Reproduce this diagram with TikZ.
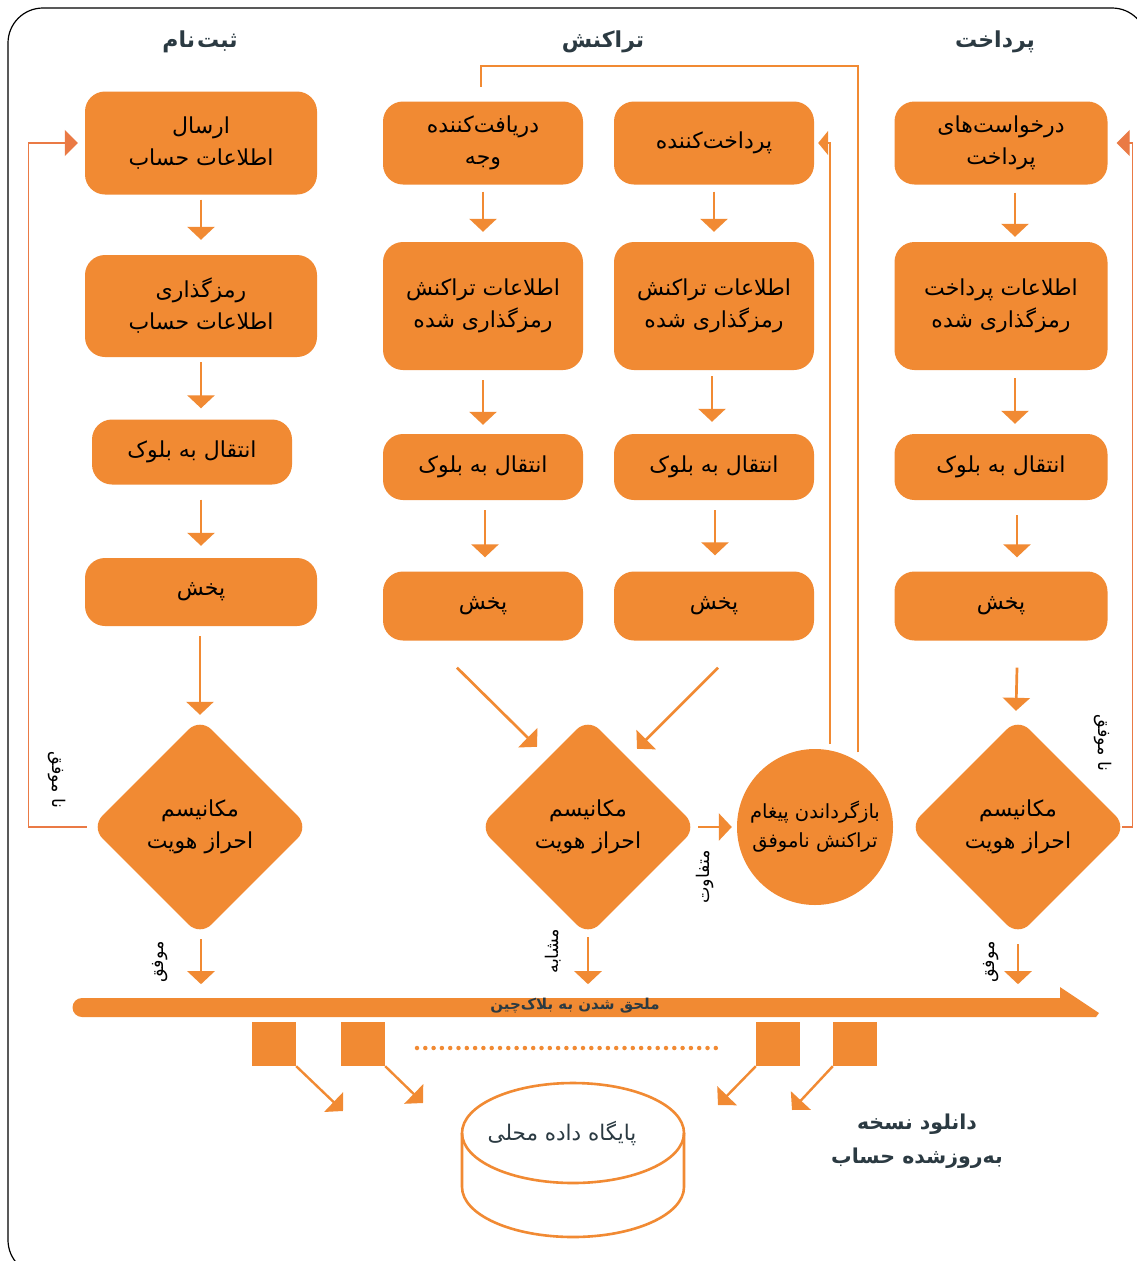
\documentclass[tikz,border=0pt]{standalone}
\usepackage{fontspec}
\usetikzlibrary{shapes.geometric,arrows.meta}
\TeXXeTstate=1
\newfontfamily\arabicfont[Script=Arabic]{DejaVu Sans}
\newcommand\fa[1]{\beginR #1\endR}
\definecolor{orng}{HTML}{F18A33}
\definecolor{ink}{HTML}{2B3A42}
\definecolor{fbline}{HTML}{EA7A45}
\begin{document}
\begin{tikzpicture}[x=1pt,y=-1pt,
  box/.style={rectangle, rounded corners=20pt, fill=orng, inner sep=0pt, align=center,
    font=\arabicfont\fontsize{22}{32}\selectfont, text=black},
  dia/.style={diamond, aspect=1, fill=orng, rounded corners=16pt, minimum width=218pt,
    minimum height=218pt, inner sep=0pt, align=center,
    font=\arabicfont\fontsize{22}{32}\selectfont, text=black},
  circ/.style={circle, fill=orng, minimum size=156pt, inner sep=0pt, align=center,
    font=\arabicfont\fontsize{19.5}{29}\selectfont, text=black},
  sq/.style={rectangle, fill=orng, minimum size=44pt, inner sep=0pt},
  arr/.style={draw=orng, line width=2.7pt, -{Triangle[length=13pt,width=27pt]}},
  fb/.style={draw=fbline, line width=1.3pt, -{Triangle[length=13pt,width=26pt]}},
  loopln/.style={draw=orng, line width=2.2pt},
  title/.style={font=\arabicfont\bfseries\fontsize{22}{28}\selectfont, text=ink},
  lab/.style={font=\arabicfont\fontsize{17.5}{22}\selectfont, text=black, inner sep=0pt},
]
\useasboundingbox (0,0) rectangle (1136,1261);
\fill[white] (0,0) rectangle (1136,1261);
% outer frame
\draw[black, line width=1.2pt, rounded corners=35pt] (8,8) rectangle (1147,1275);

% column titles
\node[title] (h1) at (200,42) {\fa{ثبت^^^^200c\kern2pt نام}};
\node[title] (h2) at (603,42) {\fa{تراکنش}};
\node[title] (h3) at (995,42) {\fa{پرداخت}};

% registration column
\node[box, minimum width=232pt, minimum height=103pt] (b1) at (201,143) {\fa{ارسال}\\\fa{اطلاعات حساب}};
\node[box, minimum width=232pt, minimum height=102pt] (b2) at (201,306) {\fa{رمزگذاری}\\\fa{اطلاعات حساب}};
\node[box, minimum width=200pt, minimum height=65pt] (b3) at (192,452) {\fa{انتقال به بلوک}};
\node[box, minimum width=232pt, minimum height=68pt] (b4) at (201,592) {\fa{پخش}};
\node[dia] (d1) at (200,827) {\fa{مکانیسم}\\\fa{احراز هویت}};

% transaction column
\node[box, minimum width=200pt, minimum height=83pt] (t1L) at (483,143) {\fa{دریافت^^^^200cکننده}\\\fa{وجه}};
\node[box, minimum width=200pt, minimum height=83pt] (t1R) at (714,143) {\fa{پرداخت^^^^200cکننده}};
\node[box, minimum width=200pt, minimum height=128pt] (t2L) at (483,306) {\fa{اطلاعات تراکنش}\\\fa{رمزگذاری شده}};
\node[box, minimum width=200pt, minimum height=128pt] (t2R) at (714,306) {\fa{اطلاعات تراکنش}\\\fa{رمزگذاری شده}};
\node[box, minimum width=200pt, minimum height=66pt] (t3L) at (483,467) {\fa{انتقال به بلوک}};
\node[box, minimum width=200pt, minimum height=66pt] (t3R) at (714,467) {\fa{انتقال به بلوک}};
\node[box, minimum width=200pt, minimum height=69pt] (t4L) at (483,606) {\fa{پخش}};
\node[box, minimum width=200pt, minimum height=69pt] (t4R) at (714,606) {\fa{پخش}};
\node[dia] (d2) at (588,827) {\fa{مکانیسم}\\\fa{احراز هویت}};
\node[circ] (c) at (815,827) {\fa{بازگرداندن پیغام}\\\fa{تراکنش ناموفق}};

% payment column
\node[box, minimum width=213pt, minimum height=83pt] (p1) at (1001,143) {\fa{درخواست^^^^200cهای}\\\fa{پرداخت}};
\node[box, minimum width=213pt, minimum height=128pt] (p2) at (1001,306) {\fa{اطلاعات پرداخت}\\\fa{رمزگذاری شده}};
\node[box, minimum width=213pt, minimum height=66pt] (p3) at (1001,467) {\fa{انتقال به بلوک}};
\node[box, minimum width=213pt, minimum height=69pt] (p4) at (1001,606) {\fa{پخش}};
\node[dia] (d3) at (1018,827) {\fa{مکانیسم}\\\fa{احراز هویت}};

% step arrows, registration
\draw[arr] ([yshift=-5pt]b1.south) -- ([yshift=15pt]b2.north);
\draw[arr] ([yshift=-5pt]b2.south) -- ([xshift=9pt,yshift=11pt]b3.north);
\draw[arr] ([xshift=9pt,yshift=-15pt]b3.south) -- ([yshift=12pt]b4.north);
\draw[arr] ([xshift=-1pt,yshift=-10pt]b4.south) -- ([yshift=3pt]d1.north);

% step arrows, transaction
\draw[arr] ([yshift=-7pt]t1L.south) -- ([yshift=10pt]t2L.north);
\draw[arr] ([yshift=-10pt]t2L.south) -- ([yshift=9pt]t3L.north);
\draw[arr] ([xshift=2pt,yshift=-10pt]t3L.south) -- ([xshift=2pt,yshift=14pt]t4L.north);
\draw[arr] ([yshift=-7pt]t1R.south) -- ([yshift=10pt]t2R.north);
\draw[arr] ([xshift=-2pt,yshift=-6pt]t2R.south) -- ([xshift=-2pt,yshift=12pt]t3R.north);
\draw[arr] ([xshift=1pt,yshift=-10pt]t3R.south) -- ([xshift=1pt,yshift=16pt]t4R.north);
\draw[arr] ([xshift=-26pt,yshift=-27pt]t4L.south) -- ([xshift=-51pt,yshift=-29pt]d2.north);
\draw[arr] ([xshift=4pt,yshift=-27pt]t4R.south) -- ([xshift=49pt,yshift=-31pt]d2.north);
\draw[arr] ([xshift=1pt]d2.east) -- ([xshift=-5pt]c.west);

% step arrows, payment
\draw[arr] ([xshift=14pt,yshift=-8pt]p1.south) -- ([xshift=14pt,yshift=5pt]p2.north);
\draw[arr] ([xshift=14pt,yshift=-8pt]p2.south) -- ([xshift=14pt,yshift=10pt]p3.north);
\draw[arr] ([xshift=16pt,yshift=-15pt]p3.south) -- ([xshift=16pt,yshift=14pt]p4.north);
\draw[arr] ([xshift=16pt,yshift=-27pt]p4.south) -- ([xshift=-2pt,yshift=7pt]d3.north);

% failure feedback loops
\draw[fb] ([xshift=-4pt]d1.west) -- ++(-58,0) |- ([xshift=-7pt]b1.west);
\draw[fb] ([xshift=-5pt]d3.east) -- ++(10,0) |- ([xshift=9pt]p1.east);
\node[lab, rotate=-90] (nf1) at (57,780) {\fa{نا موفق}};
\node[lab, rotate=-90] (nf3) at (1103,743) {\fa{نا موفق}};

% rejected transaction returns to both parties
\draw[loopln, -{Triangle[length=10pt,width=24pt]}] ([yshift=6pt]c.79) |- ([xshift=4pt]t1R.east);
\coordinate (loopend) at ([xshift=-2pt,yshift=14pt]t1L.north);
\draw[loopln] ([yshift=9pt]c.57) |- ([yshift=21pt]loopend) -- (loopend);

% outcomes down to the chain
\draw[arr] ([xshift=1pt,yshift=-3pt]d1.south) -- ([xshift=1pt,yshift=-48pt]d1.south);
\draw[arr] ([yshift=-1pt]d2.south) -- ([yshift=-48pt]d2.south);
\draw[arr] ([yshift=-8pt]d3.south) -- ([yshift=-48pt]d3.south);
\node[lab, rotate=90] (ok1) at (160,962) {\fa{موفق}};
\node[lab, rotate=90] (eq2) at (553,951) {\fa{مشابه}};
\node[lab, rotate=90] (ne2) at (705,877) {\fa{متفاوت}};
\node[lab, rotate=90] (ok3) at (991,962) {\fa{موفق}};

% chain bar with its arrow head
\fill[orng] (82,998) -- (1060,998) -- (1060,987) -- (1099,1013) -- (1096,1017) -- (82,1017)
  arc[start angle=270, end angle=90, radius=9.5pt] -- cycle;
\node[font=\arabicfont\bfseries\fontsize{15}{17}\selectfont, text=ink] (bar) at (575,1006)
  {\fa{ملحق شدن به بلاک^^^^200cچین}};

% blocks and download flow
\node[sq] (s1) at (274,1044) {};
\node[sq] (s2) at (363,1044) {};
\node[sq] (s3) at (778,1044) {};
\node[sq] (s4) at (855,1044) {};
\coordinate (e1) at (343,1111);
\coordinate (e2) at (423,1103);
\coordinate (e3) at (718,1105);
\coordinate (e4) at (792,1110);
\draw[arr, line width=2.4pt] (s1.south east) -- (e1);
\draw[arr, line width=2.4pt] (s2.south east) -- (e2);
\draw[arr, line width=2.4pt] (s3.south west) -- (e3);
\draw[arr, line width=2.4pt] (s4.south west) -- (e4);
\coordinate (dotA) at (417,1048);
\coordinate (dotB) at (720,1048);
\draw[orng, line width=4.5pt, line cap=round, dash pattern=on 0pt off 8.3pt] (dotA) -- (dotB);

% local database
\draw[orng, line width=2.6pt] (573,1133) ellipse[x radius=111pt, y radius=50pt];
\draw[orng, line width=2.6pt] (462,1133) -- (462,1187)
  arc[start angle=180, end angle=360, x radius=111pt, y radius=50pt] -- (684,1133);
\node[font=\arabicfont\fontsize{21.5}{26}\selectfont, text=ink] (db) at (562,1133) {\fa{پایگاه داده محلی}};

\node[align=center, font=\arabicfont\bfseries\fontsize{20.5}{34}\selectfont, text=ink] (dl) at (917,1141)
  {\fa{دانلود نسخه}\\\fa{به^^^^200cروزشده حساب}};
\end{tikzpicture}
\end{document}
